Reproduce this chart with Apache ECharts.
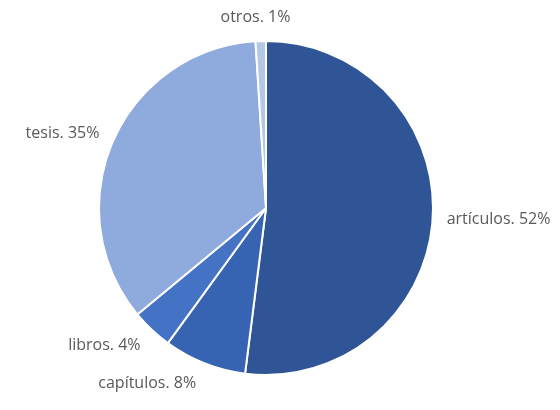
<!DOCTYPE html>
<html>
<head>
<meta charset="utf-8">
<script src="https://cdn.jsdelivr.net/npm/echarts@6/dist/echarts.min.js"></script>
<style>
  html, body { margin: 0; padding: 0; background: #fff; }
  #pie { width: 560px; height: 410px; }
</style>
</head>
<body>
<div id="pie"></div>
<script>
// categorías y porcentajes (sentido horario desde arriba)
var categories = ['artículos', 'capítulos', 'libros', 'tesis', 'otros'];
var values = [52, 8, 4, 35, 1];
var colors = ['#2F5597', '#3763B3', '#4472C4', '#8FAADC', '#B4C7E7'];

var pieCenter = [266, 208];

var myChart = echarts.init(document.getElementById('pie'));

var data = [];
for (var i = 0; i < categories.length; i++) {
    data.push({ name: categories[i], value: values[i], itemStyle: { color: colors[i] } });
}

var option = {
    animation: false,
    series: [
        {
            type: 'pie',
            center: pieCenter,
            radius: 167,
            startAngle: 90,
            clockwise: true,
            data: data,
            itemStyle: {
                borderColor: '#fff',
                borderWidth: 2
            },
            label: {
                show: true,
                position: 'outside',
                formatter: '{b}. {c}%',
                color: '#595959',
                fontFamily: 'Open Sans',
                fontSize: 16,
                overflow: 'none'
            },
            labelLine: {
                show: false,
                length: 9,
                length2: 0
            },
            // como en Excel: etiquetas fuera, empujadas un poco en vertical
            labelLayout: function (params) {
                var r = params.labelRect;
                var mx = r.x + r.width / 2 - pieCenter[0];
                var my = r.y + r.height / 2 - pieCenter[1];
                var len = Math.sqrt(mx * mx + my * my);
                var res = { dy: my / len * 15 };
                if (Math.abs(mx / len) < 0.3) {
                    res.align = 'center';
                }
                return res;
            }
        }
    ]
};

myChart.setOption(option);
window.addEventListener('resize', function () {
    myChart.resize();
});
</script>
</body>
</html>
